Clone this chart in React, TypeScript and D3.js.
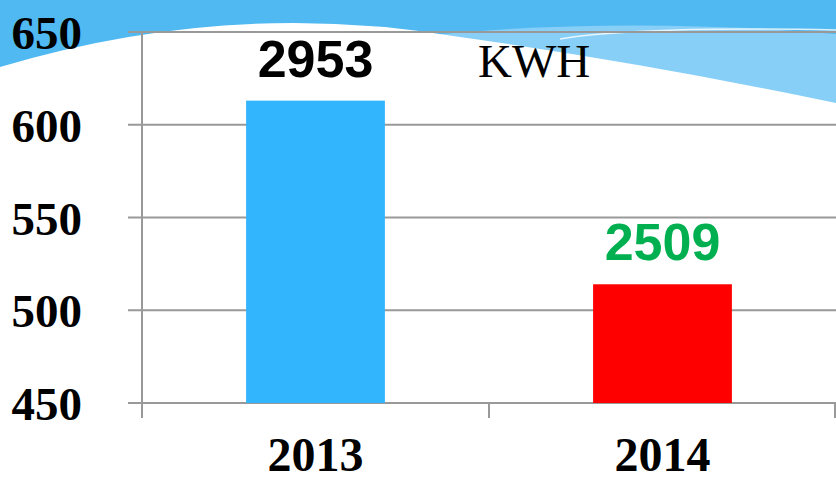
import { useEffect, useRef } from 'react';
import * as d3 from 'd3';

// chart data
const years = ['2013', '2014'];
const values = [613, 514];
const valueLabels = ['2953', '2509'];
const barColors = ['#33b5fd', '#ff0000'];
const labelColors = ['#000000', '#00b050'];
const yTicks = [450, 500, 550, 600, 650];
const unitLabel = 'KWH';

const width = 836;
const height = 478;
const margin = { top: 32, right: 0, bottom: 75, left: 142 };

export default function App() {
  const svgRef = useRef<SVGSVGElement>(null);

  useEffect(() => {
    if (!svgRef.current) return;
    const svg = d3.select(svgRef.current);
    svg.selectAll('*').remove();

    const plotBottom = height - margin.bottom;

    const x = d3.scaleBand<string>()
      .domain(years)
      .range([margin.left, width - margin.right])
      .paddingInner(0.6)
      .paddingOuter(0.3);

    const y = d3.scaleLinear()
      .domain([450, 650])
      .range([plotBottom, margin.top]);

    // background waves
    svg.append('rect')
      .attr('width', width)
      .attr('height', 120)
      .attr('fill', '#50b9f1');

    svg.append('path')
      .attr('d', 'M420,36 Q620,16 836,34 L836,120 L420,120 Z')
      .attr('fill', '#88cff7');

    svg.append('path')
      .attr('d', 'M560,39 Q640,26 836,30')
      .attr('fill', 'none')
      .attr('stroke', '#ffffff')
      .attr('stroke-width', 1.5)
      .attr('opacity', 0.8);

    svg.append('path')
      .attr('d', 'M0,67 Q230,-2 460,37 Q650,64 836,103 L836,478 L0,478 Z')
      .attr('fill', '#ffffff');

    const g = svg.append('g');

    // gridlines + left ticks
    g.selectAll('line.grid')
      .data(yTicks)
      .join('line')
      .attr('class', 'grid')
      .attr('x1', margin.left - 14)
      .attr('x2', width)
      .attr('y1', d => y(d))
      .attr('y2', d => y(d))
      .attr('stroke', '#999999')
      .attr('stroke-width', 2);

    // y axis line
    g.append('line')
      .attr('x1', margin.left)
      .attr('x2', margin.left)
      .attr('y1', margin.top)
      .attr('y2', plotBottom + 15)
      .attr('stroke', '#999999')
      .attr('stroke-width', 2);

    // category separators on x axis
    const step = x.step();
    const boundaries = years.map((_, i) => margin.left + i * step).concat([width - 1]);
    g.selectAll('line.xtick')
      .data(boundaries)
      .join('line')
      .attr('class', 'xtick')
      .attr('x1', d => d)
      .attr('x2', d => d)
      .attr('y1', plotBottom)
      .attr('y2', plotBottom + 15)
      .attr('stroke', '#999999')
      .attr('stroke-width', 2);

    // bars
    g.selectAll('rect.bar')
      .data(years)
      .join('rect')
      .attr('class', 'bar')
      .attr('x', d => x(d)!)
      .attr('width', x.bandwidth())
      .attr('y', (_, i) => y(values[i]))
      .attr('height', (_, i) => plotBottom - y(values[i]))
      .attr('fill', (_, i) => barColors[i]);

    // value labels
    g.selectAll('text.val')
      .data(years)
      .join('text')
      .attr('class', 'val')
      .attr('x', d => x(d)! + x.bandwidth() / 2)
      .attr('y', (_, i) => y(values[i]) - 24)
      .attr('text-anchor', 'middle')
      .style('font-family', '"Liberation Sans", Arial, sans-serif')
      .style('font-weight', 'bold')
      .style('font-size', '52px')
      .style('fill', (_, i) => labelColors[i])
      .text((_, i) => valueLabels[i]);

    // unit label
    g.append('text')
      .attr('x', 478)
      .attr('y', 77)
      .style('font-family', '"Liberation Serif", "Times New Roman", serif')
      .style('font-size', '47px')
      .style('fill', '#000')
      .text(unitLabel);

    // y tick labels
    g.selectAll('text.ylab')
      .data(yTicks)
      .join('text')
      .attr('class', 'ylab')
      .attr('x', 82)
      .attr('y', d => y(d) + 17)
      .attr('text-anchor', 'end')
      .style('font-family', '"Liberation Serif", "Times New Roman", serif')
      .style('font-weight', 'bold')
      .style('font-size', '47px')
      .style('fill', '#000')
      .text(d => String(d));

    // x tick labels
    g.selectAll('text.xlab')
      .data(years)
      .join('text')
      .attr('class', 'xlab')
      .attr('x', d => x(d)! + x.bandwidth() / 2)
      .attr('y', 471)
      .attr('text-anchor', 'middle')
      .style('font-family', '"Liberation Serif", "Times New Roman", serif')
      .style('font-weight', 'bold')
      .style('font-size', '48px')
      .style('fill', '#000')
      .text(d => d);
  }, []);

  return (
    <>
      <style>{`body{margin:0;}`}</style>
      <svg ref={svgRef} width={width} height={height} style={{ display: 'block' }} />
    </>
  );
}
